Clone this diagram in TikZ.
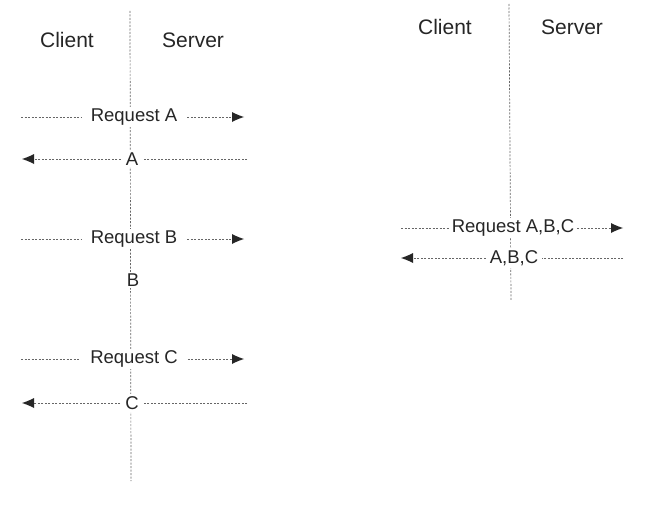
\documentclass[tikz,border=0pt]{standalone}
\usepackage{fontspec}
\setmainfont{Liberation Sans}
\usetikzlibrary{positioning, arrows.meta}
\tikzset{
	punta/.tip={Latex[length=12pt,width=10pt,fill=black!85,line width=0pt]}, % Punta de flecha rellena
	linea/.style={draw=black!60, dash pattern=on 2pt off 1.5pt, line width=0.7pt}, % Linea discontinua fina
	flecha/.style={linea, -punta}, % Linea con punta al final
	cabecera/.style={font=\fontsize{21}{25}\selectfont, text=black!85}, % Client / Server
	mensaje/.style={font=\fontsize{18.5}{22}\selectfont, text=black!85, fill=white, inner ysep=2pt} % Texto sobre las flechas
}

\begin{document}
\begin{tikzpicture}[x=1pt, y=-1pt]
	\useasboundingbox[fill=white] (0,0) rectangle (650,511);
	% lineas de vida
	\coordinate (vidaIa) at (130,11);
	\coordinate (vidaIb) at (131,481);
	\coordinate (vidaDa) at (509,4);
	\coordinate (vidaDb) at (511,300);
	\draw[linea] (vidaIa) -- (vidaIb);
	\draw[linea] (vidaDa) -- (vidaDb);
	% cabeceras
	\node[cabecera] (clienteI) at (67,40) {Client};
	\node[cabecera] (servidorI) at (193,40) {Server};
	\node[cabecera] (clienteD) at (445,27) {Client};
	\node[cabecera] (servidorD) at (572,27) {Server};
	% peticiones separadas
	\foreach \n/\y in {A/117, B/239, C/359}{
		\node[mensaje, inner xsep=10pt] (req\n) at (134,\y) {Request \n};
		\coordinate (req\n i) at (21,\y);
		\coordinate (req\n d) at (244,\y);
		\draw[linea] (req\n i) -- (req\n);
		\draw[flecha] (req\n) -- (req\n d);
	}
	% respuestas
	\foreach \n/\y in {A/159, C/403}{
		\node[mensaje, inner xsep=5pt] (res\n) at (132,\y) {\n};
		\coordinate (res\n i) at (22,\y);
		\coordinate (res\n d) at (247,\y);
		\draw[flecha] (res\n) -- (res\n i);
		\draw[linea] (res\n d) -- (res\n);
	}
	\node[mensaje, inner xsep=5pt] (resB) at (133,280) {B};
	% peticion conjunta
	\node[mensaje, inner xsep=3pt] (reqT) at (513,228) {Request A,B,C};
	\coordinate (reqTi) at (401,228);
	\coordinate (reqTd) at (623,228);
	\draw[linea] (reqTi) -- (reqT);
	\draw[flecha] (reqT) -- (reqTd);
	\node[mensaje, inner xsep=4pt] (resT) at (514,258) {A,B,C};
	\coordinate (resTi) at (401,258);
	\coordinate (resTd) at (623,258);
	\draw[flecha] (resT) -- (resTi);
	\draw[linea] (resTd) -- (resT);
\end{tikzpicture}
\end{document}
